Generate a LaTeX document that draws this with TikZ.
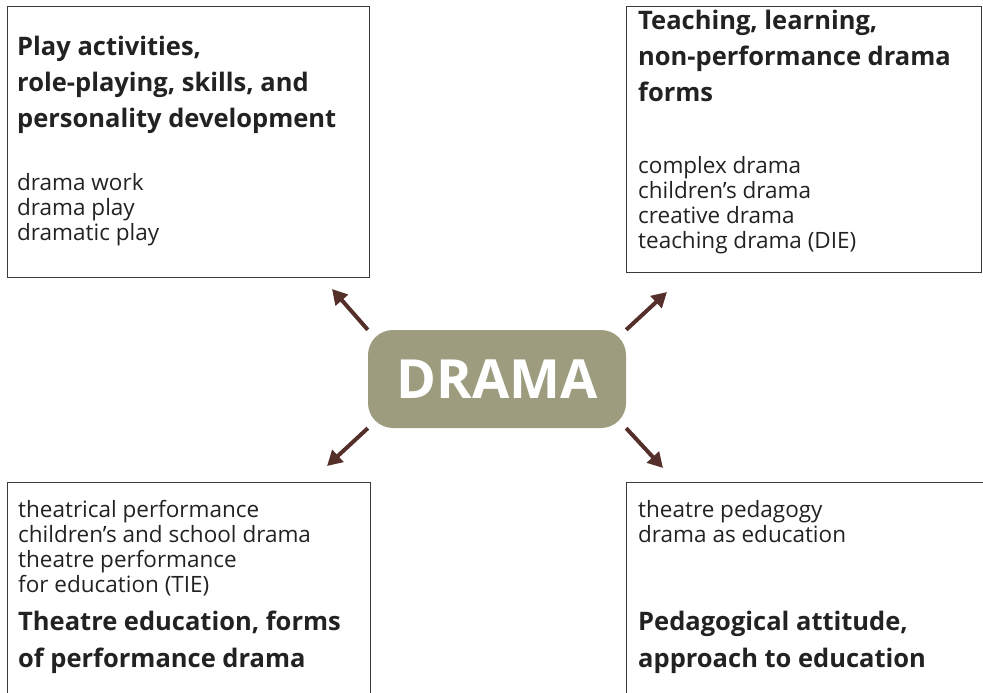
\documentclass[tikz,border=0pt]{standalone}
\usepackage{fontspec}
\setmainfont{Open Sans}
\usetikzlibrary{arrows.meta}
\definecolor{dramagreen}{HTML}{9D9C7F}
\definecolor{arrowbrown}{HTML}{55302B}
\definecolor{boxline}{HTML}{3A3A3A}
\definecolor{ink}{HTML}{222222}
\tikzstyle{field}=[draw=boxline,line width=1.2pt,anchor=north west,inner sep=0pt]
% multi-line nodes sit on the baseline of their last line
\tikzstyle{heading}=[font=\fontsize{25.5}{36.5}\selectfont\bfseries,align=left,anchor=base west,inner sep=0pt,text=ink]
\tikzstyle{terms}=[font=\fontsize{22.5}{25}\selectfont,align=left,anchor=base west,inner sep=0pt,text=ink]
\tikzstyle{centre}=[rounded corners=25pt,fill=dramagreen,text=white,font=\fontsize{54}{54}\selectfont\bfseries,minimum width=258pt,minimum height=98pt,inner sep=0pt]
\tikzstyle{spoke}=[draw=arrowbrown,line width=4pt,-{Triangle[length=15pt,width=16pt]}]

\begin{document}
\begin{tikzpicture}[x=1pt,y=-1pt]
    \useasboundingbox (0,0) rectangle (983,693);
    \clip (0,0) rectangle (983,693);
    % The four fields around the centre
    \node[field,minimum width=362pt,minimum height=271pt] (play) at (7,6) {};
    \node[field,minimum width=355pt,minimum height=266pt] (teach) at (626,6) {};
    \node[field,minimum width=363pt,minimum height=240pt] (theatre) at (7,482) {};
    \node[field,minimum width=380pt,minimum height=240pt] (pedagogy) at (626,482) {};

    % Texts of the fields
    \node[heading] (play-head) at (17,128) {Play activities,\\role-playing, skills, and\\personality development};
    \node[terms] (play-list) at (17,240) {drama work\\drama play\\dramatic play};
    \node[heading] (teach-head) at (638,102) {Teaching, learning,\\non-performance drama\\forms};
    \node[terms] (teach-list) at (638,248) {complex drama\\children’s drama\\creative drama\\teaching drama (DIE)};
    \node[terms] (theatre-list) at (18,592) {theatrical performance\\children’s and school drama\\theatre performance\\for education (TIE)};
    \node[heading] (theatre-head) at (18,667) {Theatre education, forms\\of performance drama};
    \node[terms] (pedagogy-list) at (638,542) {theatre pedagogy\\drama as education};
    \node[heading] (pedagogy-head) at (638,667) {Pedagogical attitude,\\approach to education};

    % The centre and its arrows
    \node[centre] (drama) at (497,379) {DRAMA};
    \coordinate (tip-play) at (332,289);
    \coordinate (tip-teach) at (667,292);
    \coordinate (tip-theatre) at (327,466);
    \coordinate (tip-pedagogy) at (663,468);
    \foreach \corner/\tip in {north west/play, north east/teach, south west/theatre, south east/pedagogy}
        \path[spoke] (drama.\corner) -- (tip-\tip);
\end{tikzpicture}
\end{document}
